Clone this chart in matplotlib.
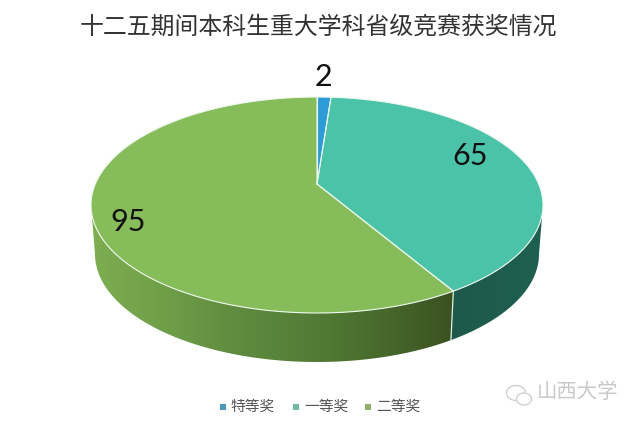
import numpy as np
import matplotlib
matplotlib.use("Agg")
import matplotlib.pyplot as plt
from matplotlib.patches import Polygon, Ellipse
from matplotlib.colors import LinearSegmentedColormap

plt.rcParams['font.family'] = ['Noto Sans CJK SC', 'DejaVu Sans']

title = "十二五期间本科生重大学科省级竞赛获奖情况"
categories = ["特等奖", "一等奖", "二等奖"]
values = [2, 65, 95]
top_colors = ["#2e9bd9", "#4bc3a9", "#87bc5a"]
legend_colors = ["#4a98bb", "#6fb9a0", "#90af69"]
label_pos = [(323, 77), (470, 156), (128, 222)]
legend_x = [222.5, 296, 368]

fig = plt.figure(figsize=(6.37, 4.25), dpi=100)
ax = fig.add_axes([0, 0, 1, 1])
ax.set_xlim(0, 637)
ax.set_ylim(425, 0)
ax.axis("off")

CX, CY, RX, RY = 317, 205, 226, 108      # top rim
BX, BY, BRX, BRY = 317, 254, 222, 108    # bottom rim
AX, AY = 317, 184                        # apex as seen in perspective


def warp(a):
    return a - 11.6 * np.sin(np.radians(a))


def rim(t_deg, cx=CX, cy=CY, rx=RX, ry=RY):
    t = np.radians(np.asarray(t_deg, dtype=float))
    return np.column_stack([cx + rx * np.sin(t), cy - ry * np.cos(t)])


edges = 360 * np.cumsum([0] + values) / sum(values)
t_edges = warp(edges)


def side(t0, t1, cmap, zorder):
    t = np.linspace(t0, t1, 200)
    poly = np.vstack([rim(t), rim(t, BX, BY, BRX, BRY)[::-1]])
    x0, x1 = poly[:, 0].min(), poly[:, 0].max()
    y0, y1 = poly[:, 1].min(), poly[:, 1].max()
    im = ax.imshow(np.linspace(0, 1, 256)[None, :], extent=(x0, x1, y1, y0),
                   cmap=cmap, aspect="auto", zorder=zorder)
    patch = Polygon(poly, closed=True, transform=ax.transData, fc="none", ec="none")
    ax.add_patch(patch)
    im.set_clip_path(patch)
    ax.set_xlim(0, 637)
    ax.set_ylim(425, 0)


green_side = LinearSegmentedColormap.from_list(
    "g", ["#7dae50", "#6f9f49", "#5f8c3f", "#547d37", "#476a2c", "#3b5121"])
teal_side = LinearSegmentedColormap.from_list("t", ["#1e5a4c", "#1d5c4e", "#1f6151"])

side(90, t_edges[2], teal_side, 1)
side(t_edges[2], 270, green_side, 1)

# seam between the two side walls
seam = np.vstack([rim([t_edges[2]]), rim([t_edges[2]], BX, BY, BRX, BRY)])
ax.plot(seam[:, 0], seam[:, 1], color="#dfeee0", lw=0.9, zorder=2)

# top faces
for i, c in enumerate(top_colors):
    t = np.linspace(t_edges[i], t_edges[i + 1], 200)
    pts = np.vstack([[AX, AY], rim(t)])
    ax.add_patch(Polygon(pts, closed=True, fc=c, ec="none", zorder=3))
    ax.plot(pts[:, 0], pts[:, 1], color="#eef8ee", lw=0.8, zorder=4)
    p = rim([t_edges[i]])[0]
    ax.plot([AX, p[0]], [AY, p[1]], color="#e6f5e6", lw=0.8, zorder=4)

for v, (x, y) in zip(values, label_pos):
    ax.text(x, y, str(v), fontsize=22, family=["Lato", "DejaVu Sans"], color="#111111",
            ha="center", va="center", zorder=5)

ax.text(318, 27.5, title, fontsize=17.2, color="#333333", ha="center", va="center")

for x, c, name in zip(legend_x, legend_colors, categories):
    ax.scatter([x], [407], marker="s", s=16, color=c, linewidths=0)
    ax.text(x + 8, 407, name, fontsize=10.6, color="#555555", ha="left", va="center")

# watermark
ax.add_patch(Ellipse((516, 393), 19, 15, fc="none", ec="#d0d0d0", lw=1))
ax.add_patch(Ellipse((524, 399), 15, 12, fc="white", ec="#d0d0d0", lw=1))
ax.text(537, 393, "山西大学", fontsize=14.7, color="#c9c9c9", ha="left", va="center")

fig.savefig("out.png", dpi=100)
